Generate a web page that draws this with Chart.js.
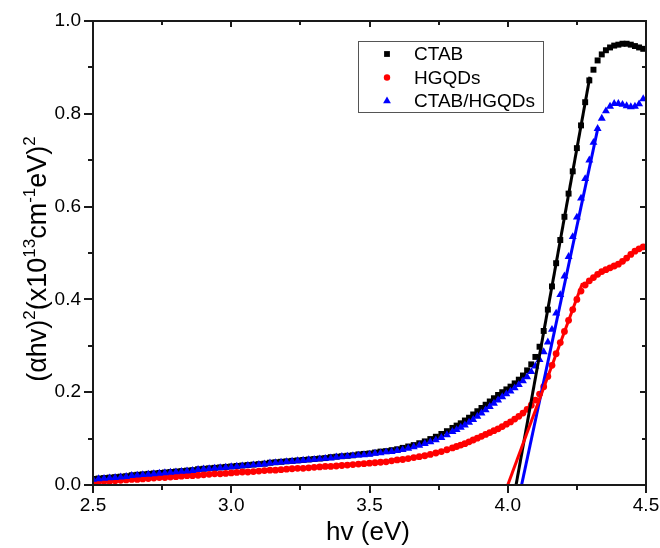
<!DOCTYPE html>
<html><head><meta charset="utf-8">
<script src="https://cdn.jsdelivr.net/npm/chart.js@4.4.0/dist/chart.umd.min.js"></script>
<style>html,body{margin:0;padding:0;background:#fff;}#wrap{width:660px;height:548px;}</style>
</head><body><div id="wrap"><canvas id="c" width="660" height="548"></canvas></div>
<script>
// photon energy (eV)
const hv = [
2.50,2.52,2.54,2.56,2.58,2.60,2.62,2.64,2.66,2.68,
2.70,2.72,2.74,2.76,2.78,2.80,2.82,2.84,2.86,2.88,
2.90,2.92,2.94,2.96,2.98,3.00,3.02,3.04,3.06,3.08,
3.10,3.12,3.14,3.16,3.18,3.20,3.22,3.24,3.26,3.28,
3.30,3.32,3.34,3.36,3.38,3.40,3.42,3.44,3.46,3.48,
3.50,3.52,3.54,3.56,3.58,3.60,3.62,3.64,3.66,3.68,
3.70,3.72,3.74,3.76,3.78,3.80,
3.815,3.83,3.845,3.86,3.875,3.89,3.905,3.92,3.935,3.95,
3.965,3.98,3.995,4.01,4.025,4.04,4.055,4.07,4.085,4.10,
4.115,4.13,4.145,4.16,4.175,4.19,4.205,4.22,4.235,4.25,
4.265,4.28,4.295,4.31,4.325,4.34,4.355,4.37,4.385,4.40,
4.415,4.43,4.445,4.46,4.475,4.49];

const ctab = [
.013,.014,.015,.016,.017,.018,.019,.021,.022,.023,
.024,.025,.026,.027,.028,.029,.030,.031,.032,.034,
.035,.036,.037,.038,.039,.040,.041,.042,.043,.044,
.045,.046,.048,.049,.050,.051,.052,.053,.054,.055,
.056,.057,.058,.060,.061,.062,.063,.064,.066,.067,
.068,.070,.072,.073,.075,.077,.080,.083,.086,.090,
.094,.099,.104,.110,.116,.123,
.128,.133,.139,.145,.152,.159,.166,.173,.180,.187,
.194,.200,.206,.212,.219,.227,.236,.247,.260,.276,
.298,.332,.378,.428,.478,.528,.578,.628,.676,.726,
.775,.825,.872,.895,.915,.928,.937,.943,.947,.949,
.951,.951,.949,.946,.943,.940];

const hgqds = [
.006,.007,.008,.008,.009,.010,.011,.012,.012,.013,
.014,.015,.016,.016,.017,.018,.019,.020,.020,.021,
.022,.023,.024,.024,.025,.026,.027,.028,.028,.029,
.030,.031,.032,.032,.033,.034,.035,.036,.036,.037,
.038,.039,.040,.040,.041,.042,.043,.044,.045,.046,
.047,.048,.049,.050,.052,.054,.055,.057,.059,.061,
.063,.066,.069,.072,.076,.080,
.083,.086,.089,.093,.097,.101,.105,.109,.113,.117,
.121,.126,.131,.136,.142,.148,.155,.163,.172,.183,
.196,.212,.234,.258,.283,.307,.331,.355,.378,.400,
.418,.431,.440,.447,.454,.460,.464,.468,.472,.476,
.482,.489,.497,.504,.509,.513];

const ctabHgqds = [
.012,.013,.014,.015,.016,.017,.018,.020,.021,.022,
.023,.024,.025,.026,.027,.028,.029,.030,.031,.033,
.034,.035,.036,.037,.038,.039,.040,.041,.042,.043,
.044,.045,.047,.048,.049,.050,.051,.052,.053,.054,
.055,.056,.057,.058,.060,.061,.062,.063,.064,.065,
.066,.068,.069,.071,.072,.074,.076,.079,.082,.085,
.089,.093,.097,.102,.108,.115,
.119,.124,.129,.135,.141,.148,.155,.162,.169,.176,
.183,.190,.196,.202,.209,.216,.224,.233,.244,.256,
.270,.287,.308,.335,.370,.410,.450,.492,.535,.577,
.618,.660,.700,.738,.768,.790,.806,.816,.822,.822,
.820,.817,.815,.816,.821,.832];

// linear fits (Tauc extrapolation)
const fitCtabX = [4.03, 4.297],  fitCtabY = [0, 0.88];
const fitHgqdsX = [4.00, 4.27],  fitHgqdsY = [0, 0.435];
const fitMixX = [4.05, 4.327],   fitMixY = [0, 0.772];

const xMajor = [2.5, 3.0, 3.5, 4.0, 4.5];
const xMinor = [2.75, 3.25, 3.75, 4.25];
const yMajor = [0, 0.2, 0.4, 0.6, 0.8, 1.0];
const yMinor = [0.1, 0.3, 0.5, 0.7, 0.9];
const seriesNames = ['CTAB', 'HGQDs', 'CTAB/HGQDs'];

const FONT = '"Liberation Sans", Arial, Helvetica, sans-serif';
const pts = (xs, ys) => xs.map((x, i) => ({x: x, y: ys[i]}));

const framePlugin = {
  id: 'frame',
  afterDatasetsDraw(chart) {
    const {ctx, chartArea: a, scales: {x, y}} = chart;
    ctx.save();
    ctx.strokeStyle = '#1a1a1a';
    ctx.lineWidth = 2;
    ctx.beginPath();
    ctx.rect(a.left, a.top, a.right - a.left, a.bottom - a.top);
    ctx.stroke();
    ctx.beginPath();
    const xt = (v, outL, inL) => {
      const p = Math.round(x.getPixelForValue(v));
      ctx.moveTo(p, a.bottom); ctx.lineTo(p, a.bottom + outL);
      ctx.moveTo(p, a.top); ctx.lineTo(p, a.top + inL);
    };
    const yt = (v, outL, inL) => {
      const p = Math.round(y.getPixelForValue(v));
      ctx.moveTo(a.left, p); ctx.lineTo(a.left - outL, p);
      ctx.moveTo(a.right, p); ctx.lineTo(a.right - inL, p);
    };
    xMajor.forEach(v => xt(v, 8, 6));
    xMinor.forEach(v => xt(v, 5, 4));
    yMajor.forEach(v => yt(v, 9, 6));
    yMinor.forEach(v => yt(v, 5, 4));
    ctx.stroke();
    ctx.restore();
  },
  afterDraw(chart) {
    const {ctx, chartArea: a} = chart;
    ctx.save();
    ctx.fillStyle = '#000';
    // x title
    ctx.font = '26px ' + FONT;
    ctx.textAlign = 'center';
    ctx.textBaseline = 'alphabetic';
    ctx.fillText('hv (eV)', 368, 540);
    // y title with superscripts
    const parts = [['(\u03b1hv)', 0], ['2', 1], ['(x10', 0], ['13', 1], ['cm', 0], ['-1', 1], ['eV)', 0], ['2', 1]];
    const big = '27px ' + FONT, small = '17px ' + FONT;
    let W = 0;
    parts.forEach(p => { ctx.font = p[1] ? small : big; W += ctx.measureText(p[0]).width; });
    ctx.translate(46, 259);
    ctx.rotate(-Math.PI / 2);
    ctx.textAlign = 'left';
    let cx = -W / 2;
    parts.forEach(p => {
      ctx.font = p[1] ? small : big;
      ctx.fillText(p[0], cx, p[1] ? -11 : 0);
      cx += ctx.measureText(p[0]).width;
    });
    ctx.restore();
    // legend
    ctx.save();
    ctx.strokeStyle = '#555';
    ctx.lineWidth = 1;
    ctx.strokeRect(358.5, 41.5, 185, 71);
    ctx.font = '19px ' + FONT;
    ctx.textAlign = 'left';
    ctx.textBaseline = 'middle';
    const ds = chart.data.datasets;
    [0, 1, 2].forEach((k, i) => {
      const yy = 54 + i * 23.5, xx = 387;
      const d = ds[k];
      ctx.fillStyle = d.backgroundColor;
      ctx.beginPath();
      if (d.pointStyle === 'rect') ctx.rect(xx - 2.9, yy - 2.9, 5.8, 5.8);
      else if (d.pointStyle === 'circle') ctx.arc(xx, yy, 3.2, 0, Math.PI * 2);
      else { ctx.moveTo(xx, yy - 4.5); ctx.lineTo(xx + 3.9, yy + 2.25); ctx.lineTo(xx - 3.9, yy + 2.25); ctx.closePath(); }
      ctx.fill();
      ctx.fillStyle = '#000';
      ctx.fillText(seriesNames[i], 414, yy + 1);
    });
    ctx.restore();
  }
};

new Chart(document.getElementById('c'), {
  type: 'scatter',
  data: {
    datasets: [
      {label: seriesNames[0], data: pts(hv, ctab), pointStyle: 'rect', pointRadius: 4.2, backgroundColor: '#000000', borderColor: '#000000', borderWidth: 0, showLine: false, order: 5},
      {label: seriesNames[1], data: pts(hv, hgqds), pointStyle: 'circle', pointRadius: 3.4, backgroundColor: '#ff0000', borderColor: '#ff0000', borderWidth: 0, showLine: false, order: 4},
      {label: seriesNames[2], data: pts(hv, ctabHgqds), pointStyle: 'triangle', pointRadius: 4.6, backgroundColor: '#0000ff', borderColor: '#0000ff', borderWidth: 0, showLine: false, order: 3},
      {label: 'fit CTAB', data: pts(fitCtabX, fitCtabY), showLine: true, pointRadius: 0, borderColor: '#000000', borderWidth: 3, order: 2},
      {label: 'fit CTAB/HGQDs', data: pts(fitMixX, fitMixY), showLine: true, pointRadius: 0, borderColor: '#0000ff', borderWidth: 3, order: 1},
      {label: 'fit HGQDs', data: pts(fitHgqdsX, fitHgqdsY), showLine: true, pointRadius: 0, borderColor: '#ff0000', borderWidth: 3, order: 0}
    ]
  },
  options: {
    responsive: false,
    devicePixelRatio: 1,
    animation: false,
    layout: {padding: {left: 0, right: 14, top: 21, bottom: 0}},
    plugins: {legend: {display: false}, tooltip: {enabled: false}},
    scales: {
      x: {
        type: 'linear', min: 2.5, max: 4.5,
        grid: {display: false, drawTicks: false},
        border: {display: false},
        ticks: {stepSize: 0.5, padding: 9, color: '#000', font: {size: 19, family: FONT}, maxRotation: 0,
          callback: v => Number(v).toFixed(1)},
        afterFit: s => { s.height = 63; s.paddingLeft = 0; s.paddingRight = 0; }
      },
      y: {
        type: 'linear', min: 0, max: 1.0,
        grid: {display: false, drawTicks: false},
        border: {display: false},
        ticks: {stepSize: 0.2, padding: 12, color: '#000', font: {size: 19, family: FONT},
          callback: v => Number(v).toFixed(1)},
        afterFit: s => { s.width = 93; s.paddingTop = 0; s.paddingBottom = 0; }
      }
    }
  },
  plugins: [framePlugin]
});
</script>
</body></html>
